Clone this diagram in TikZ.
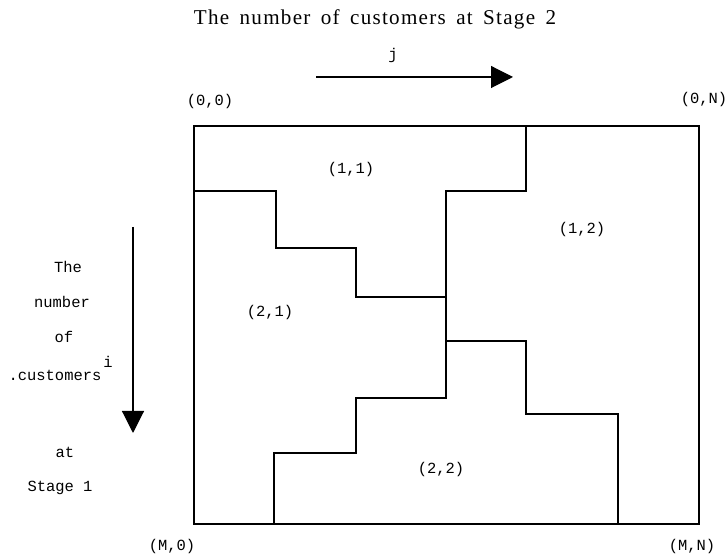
\documentclass[tikz,border=0pt]{standalone}
\usepackage{fontspec}
\setmainfont{Liberation Serif}
\setmonofont{Liberation Mono}
\newfontfamily\titlefont[LetterSpace=6,WordSpace=1.6]{Liberation Serif}
\usetikzlibrary{arrows.meta, positioning, calc}

\tikzset{
  wall/.style={line width=1.1pt, black},
  lbl/.style={font=\fontsize{11}{12}\selectfont\ttfamily, inner sep=0pt},
  axisarrow/.style={line width=0.8pt, -{Triangle[length=5.5mm, width=5.5mm]}},
}

\begin{document}
\begin{tikzpicture}[scale=1.0]
  \useasboundingbox (0,0) rectangle (18.2,14);
  % state space 0..M (down) x 0..N (right), 1 unit of the scan = 0.025cm
  \coordinate (tl) at (4.85,10.85);
  \coordinate (br) at (17.475,0.9);
  \draw[wall] (tl) rectangle (br);
  % boundary (1,1) | (2,1)
  \draw[wall] (4.85,9.225) -| (6.9,7.8) -| (8.9,6.575) -- (11.15,6.575);
  % boundary (1,1),(2,1) | (1,2),(2,2)
  \draw[wall] (13.15,10.85) |- (11.15,9.225) |- (8.9,4.05) |- (6.85,2.675) -- (6.85,0.9);
  % boundary (1,2) | (2,2)
  \draw[wall] (11.15,5.475) -| (13.15,3.65) -| (15.45,0.9);

  % j axis
  \node[font={\titlefont\fontsize{15}{18}\selectfont}] (title) at (9.375,13.525) {The number of customers at Stage 2};
  \coordinate (jstart) at (7.9,12.075);
  \coordinate (jend) at (12.825,12.075);
  \draw[axisarrow] (jstart) -- (jend);
  \node[lbl] (jlab) at (9.825,12.6) {j};

  % i axis
  \coordinate (istart) at (3.325,8.325);
  \coordinate (iend) at (3.325,3.175);
  \draw[axisarrow] (istart) -- (iend);
  \foreach \x/\y/\w [count=\k] in {1.7/7.325/The, 1.55/6.45/number, 1.6/5.575/of,
                                    1.62/2.7/at, 1.5/1.8/Stage 1} {
    \node[lbl] (side\k) at (\x,\y) {\w};
  }
  \node[lbl] (sidec) at (1.375,4.625) {.customers};
  \node[lbl] (supi) at (2.7,4.95) {i};

  % corners
  \node[lbl] (c00) at (5.25,11.45) {(0,0)};
  \node[lbl] (c0N) at (17.6,11.5) {(0,N)};
  \node[lbl] (cM0) at (4.3,0.325) {(M,0)};
  \node[lbl] (cMN) at (17.3,0.325) {(M,N)};

  % regions
  \node[lbl] (r11) at (8.775,9.75) {(1,1)};
  \node[lbl] (r21) at (6.75,6.175) {(2,1)};
  \node[lbl] (r12) at (14.55,8.25) {(1,2)};
  \node[lbl] (r22) at (11.025,2.25) {(2,2)};
\end{tikzpicture}
\end{document}
